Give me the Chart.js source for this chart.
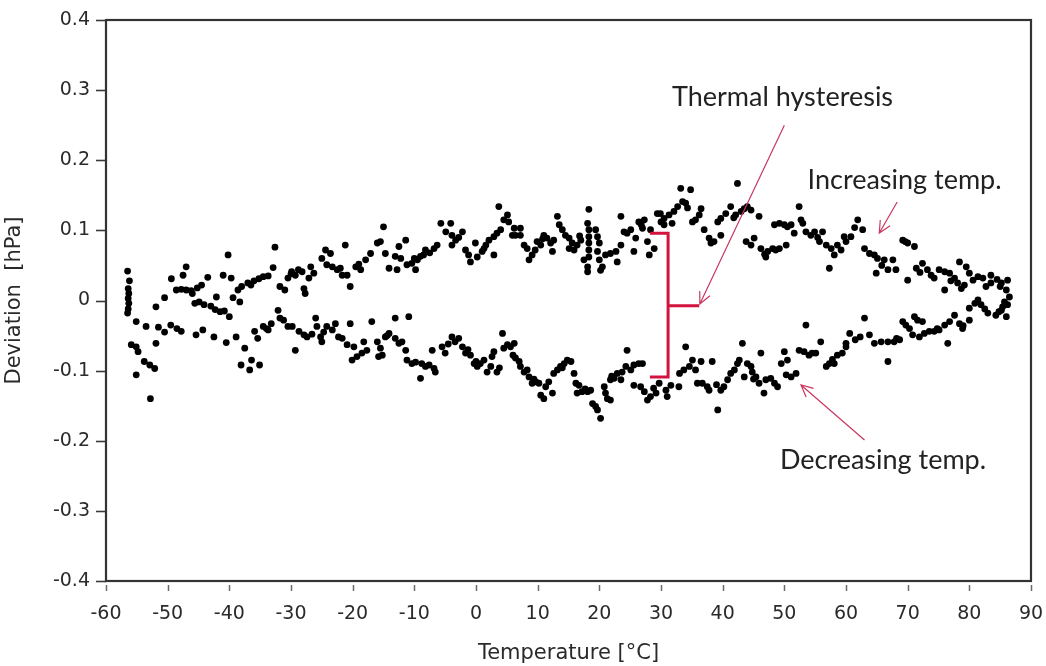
<!DOCTYPE html>
<html>
<head>
<meta charset="utf-8">
<script src="https://cdn.jsdelivr.net/npm/chart.js@4/dist/chart.umd.min.js"></script>
<style>
  html, body { margin: 0; padding: 0; background: #ffffff; }
  #wrap { width: 1046px; height: 666px; }
</style>
</head>
<body>
<div id="wrap"><canvas id="chart" width="1046" height="666"></canvas></div>
<script>
// Pressure sensor deviation over a temperature cycle (heating run and cooling run)
const xTicks = [-60, -50, -40, -30, -20, -10, 0, 10, 20, 30, 40, 50, 60, 70, 80, 90];
const yTicks = [-0.4, -0.3, -0.2, -0.1, 0, 0.1, 0.2, 0.3, 0.4];

// Increasing temperature run: temperature [°C]
const incTemp = [
  -56.5, -56.2, -56.4, -56.3, -56.4, -56.3, -56.4, -56.5, -55.1, -53.5, -51.9, -50.5, -49.4, -47.5, -47.0, -48.6,
  -47.8, -47.0, -46.2, -44.5, -43.5, -45.6, -44.9, -44.1, -43.0, -42.3, -41.5, -40.8, -40.0, -42.1, -40.2, -41.0,
  -39.7, -38.6, -39.4, -38.3, -37.0, -36.0, -35.2, -34.5, -33.7, -32.6, -32.9, -31.8, -31.0, -30.5, -29.9, -29.3,
  -28.2, -26.8, -26.3, -27.1, -27.9, -27.7, -25.0, -24.4, -23.6, -24.2, -23.3, -22.5, -22.0, -20.9, -20.4, -21.7,
  -21.2, -19.5, -18.7, -17.9, -17.1, -16.0, -15.5, -15.0, -14.7, -14.1, -12.8, -12.5, -11.4, -13.1, -12.2, -11.2,
  -10.4, -9.5, -9.0, -8.2, -9.8, -8.5, -6.8, -6.3, -5.7, -4.1, -4.9, -3.9, -3.3, -2.2, -3.9, -1.7,
  -1.2, -0.9, -0.1, 0.2, 1.0, 1.6, 2.1, 2.9, 3.4, 4.0, 2.9, 3.7, 4.5, 5.1, 5.3, 5.9,
  6.4, 7.2, 6.2, 7.2, 7.8, 8.3, 8.6, 9.1, 9.6, 9.9, 10.5, 11.0, 11.5, 12.1, 12.6, 12.4,
  13.2, 13.5, 14.0, 14.5, 15.1, 15.6, 15.1, 15.9, 16.4, 17.0, 18.3, 18.1, 18.3, 18.3, 18.3, 18.3,
  18.3, 17.5, 18.1, 18.1, 19.4, 19.7, 20.0, 19.7, 20.0, 20.5, 20.2, 21.0, 21.8, 22.7, 22.9, 23.5,
  23.5, 24.5, 25.1, 25.9, 26.4, 27.0, 27.3, 27.8, 28.3, 28.9, 29.4, 25.6, 28.1, 29.9, 30.5, 31.3,
  32.1, 32.7, 31.8, 30.5, 33.2, 34.8, 33.5, 34.0, 35.1, 35.6, 36.2, 36.5, 37.0, 37.8, 38.1, 38.6,
  39.2, 39.7, 39.7, 40.5, 41.3, 42.1, 43.0, 43.5, 44.0, 44.6, 42.4, 43.8, 45.1, 44.6, 45.9, 46.2,
  47.0, 47.3, 48.1, 48.6, 49.2, 50.3, 48.4, 49.2, 50.0, 50.5, 51.1, 51.6, 52.4, 52.7, 53.5, 54.3,
  54.9, 56.2, 55.7, 56.8, 57.6, 58.1, 57.3, 58.6, 59.7, 59.2, 61.9, 62.7, 60.8, 60.0, 63.0, 63.8,
  64.6, 65.1, 64.9, 66.2, 66.8, 67.6, 68.1, 69.2, 70.0, 71.1, 70.0, 71.4, 72.4, 73.2, 73.8, 74.3,
  75.1, 76.0, 76.8, 76.0, 77.6, 78.1, 78.7, 78.4, 79.5, 80.0, 79.2, 80.6, 81.4, 82.2, 82.7, 83.5,
  83.5, 85.2, 86.2, 86.0, 86.5, 85.7, 86.2,
  -46.0, -45.2, -38.0, -36.5, -30.0, -28.8, -19.0, -10.0, -7.5, -2.8, 1.3, 10.8, 16.8, 24.0, 26.8, 30.0,
  34.3, 41.8, 46.8, 53.0, 55.4, 61.4, 65.8, 69.6, 72.0, 77.0, 84.5, 85.0
];
// Increasing temperature run: deviation [hPa]
const incDev = [
  0.042, 0.028, 0.017, 0.010, 0.003, -0.004, -0.012, -0.018, -0.030, -0.037, -0.009, 0.004, 0.031, 0.036, 0.048, 0.015,
  0.016, 0.015, 0.014, 0.022, 0.033, -0.004, -0.002, -0.006, -0.008, -0.013, -0.016, -0.015, -0.023, 0.005, 0.065, 0.036,
  0.032, 0.015, 0.004, -0.002, 0.025, 0.028, 0.031, 0.034, 0.035, 0.076, 0.047, 0.020, 0.015, 0.032, 0.041, 0.036,
  0.041, 0.048, 0.039, 0.032, 0.017, 0.010, 0.060, 0.072, 0.067, 0.051, 0.048, 0.044, 0.046, 0.036, 0.020, 0.036,
  0.079, 0.048, 0.044, 0.058, 0.067, 0.082, 0.084, 0.105, 0.067, 0.046, 0.044, 0.077, 0.086, 0.063, 0.060, 0.051,
  0.053, 0.058, 0.063, 0.072, 0.044, 0.065, 0.074, 0.079, 0.110, 0.110, 0.098, 0.093, 0.086, 0.098, 0.079, 0.072,
  0.065, 0.055, 0.082, 0.062, 0.070, 0.079, 0.086, 0.091, 0.096, 0.101, 0.065, 0.134, 0.115, 0.122, 0.112, 0.093,
  0.093, 0.093, 0.103, 0.103, 0.079, 0.074, 0.058, 0.065, 0.072, 0.084, 0.079, 0.093, 0.089, 0.082, 0.086, 0.070,
  0.120, 0.108, 0.101, 0.093, 0.089, 0.082, 0.074, 0.072, 0.079, 0.086, 0.130, 0.110, 0.101, 0.091, 0.082, 0.072,
  0.062, 0.058, 0.048, 0.041, 0.101, 0.091, 0.082, 0.070, 0.058, 0.048, 0.043, 0.065, 0.067, 0.070, 0.055, 0.079,
  0.120, 0.096, 0.101, 0.089, 0.112, 0.103, 0.115, 0.084, 0.101, 0.074, 0.124, 0.070, 0.065, 0.124, 0.117, 0.122,
  0.127, 0.134, 0.110, 0.108, 0.160, 0.158, 0.141, 0.139, 0.112, 0.115, 0.122, 0.131, 0.101, 0.089, 0.082, 0.084,
  0.112, 0.117, 0.093, 0.124, 0.134, 0.122, 0.127, 0.131, 0.134, 0.129, 0.167, 0.084, 0.089, 0.079, 0.120, 0.074,
  0.062, 0.070, 0.074, 0.072, 0.074, 0.079, 0.108, 0.110, 0.108, 0.105, 0.108, 0.096, 0.134, 0.115, 0.098, 0.093,
  0.098, 0.098, 0.084, 0.079, 0.074, 0.065, 0.046, 0.079, 0.091, 0.072, 0.115, 0.101, 0.091, 0.084, 0.074, 0.067,
  0.065, 0.060, 0.039, 0.058, 0.044, 0.058, 0.044, 0.086, 0.082, 0.077, 0.029, 0.046, 0.053, 0.044, 0.036, 0.032,
  0.044, 0.041, 0.039, 0.015, 0.032, 0.025, 0.017, 0.055, 0.048, 0.039, 0.022, 0.029, 0.034, 0.032, 0.020, 0.025,
  0.036, 0.025, 0.029, 0.015, 0.005, -0.002, -0.006,
  0.010, 0.018, 0.020, 0.022, 0.038, 0.044, 0.052, 0.060, 0.068, 0.090, 0.074, 0.088, 0.092, 0.098, 0.108, 0.112,
  0.132, 0.118, 0.066, 0.110, 0.090, 0.104, 0.050, 0.084, 0.040, 0.028, 0.030, 0.020
];

// Decreasing temperature run: temperature [°C]
const decTemp = [
  85.2, 84.3, 86.0, 85.4, 83.0, 81.9, 81.4, 80.9, 80.0, 80.0, 78.9, 78.4, 77.6, 76.8, 76.0, 76.5,
  75.1, 74.3, 73.5, 72.7, 71.9, 70.8, 72.4, 71.6, 71.1, 70.3, 69.7, 69.2, 68.7, 67.8, 66.8, 66.8,
  65.7, 64.6, 63.8, 63.0, 61.5, 60.6, 60.0, 60.0, 59.4, 58.6, 58.1, 57.3, 56.8, 55.9, 55.1, 54.5,
  54.0, 53.5, 53.2, 52.4, 51.9, 51.1, 50.3, 50.5, 50.0, 48.9, 48.4, 47.8, 47.0, 46.7, 46.2, 45.9,
  45.4, 44.8, 44.6, 44.0, 43.5, 43.2, 42.7, 42.4, 41.9, 41.3, 40.8, 40.2, 39.7, 39.2, 38.3, 37.8,
  37.5, 36.7, 36.5, 35.9, 35.6, 35.1, 34.6, 33.7, 34.0, 32.9, 31.6, 31.0, 30.8, 29.7, 29.2, 28.3,
  27.8, 27.3, 26.7, 25.6, 27.0, 26.4, 25.6, 25.1, 24.5, 24.3, 23.7, 23.5, 22.9, 22.4, 21.8, 21.8,
  21.3, 21.0, 20.8, 20.2, 19.7, 19.4, 18.9, 18.6, 18.1, 17.2, 16.4, 16.7, 16.2, 15.9, 15.4, 14.8,
  14.3, 13.7, 13.2, 12.6, 12.4, 11.8, 11.3, 11.0, 10.5, 10.2, 9.7, 9.1, 8.6, 8.3, 7.8, 7.2,
  7.0, 6.4, 6.2, 5.6, 5.1, 4.5, 4.3, 2.9, 3.4, 2.6, 2.4, 1.8, 1.3, 0.7, 0.0, 0.2,
  -0.3, -0.9, -1.7, -2.2, -2.8, -3.4, -3.9, -5.0, -5.5, -7.1, -6.6, -6.8, -7.6, -8.2, -9.0, -9.8,
  -10.4, -11.2, -10.9, -13.1, -11.4, -12.0, -12.5, -13.1, -14.1, -14.7, -15.8, -15.2, -15.5, -16.0, -16.9, -18.2,
  -17.7, -18.5, -19.3, -20.1, -20.4, -20.9, -21.7, -22.3, -22.8, -23.3, -24.2, -25.0, -25.2, -25.8, -26.0, -27.4,
  -27.9, -28.7, -29.3, -29.8, -30.5, -31.8, -32.1, -33.2, -33.7, -34.5, -35.4, -35.9, -35.1, -36.7, -38.1, -36.4,
  -37.5, -38.9, -44.3, -45.4, -47.8, -48.5, -49.5, -50.5, -51.5, -52.9, -52.1, -53.8, -55.1, -52.8, -51.9, -54.8,
  -55.1, -55.9,
  84.8, 82.5, 79.0, 74.8, 68.2, 62.3, 57.8, 49.5, 45.0, 39.0, 33.0, 28.8, 22.0, 17.7, 14.0, 9.4,
  6.0, 3.8, -1.3, -4.5, -8.8, -14.4, -19.8, -24.7, -26.6, -31.2, -34.0, -40.5, -42.5
];
// Decreasing temperature run: deviation [hPa]
const decDev = [
  -0.014, -0.021, -0.023, -0.009, -0.018, -0.006, 0.001, -0.004, -0.011, -0.028, -0.040, -0.033, -0.021, -0.030, -0.035, -0.061,
  -0.042, -0.044, -0.044, -0.047, -0.052, -0.049, -0.030, -0.028, -0.023, -0.040, -0.035, -0.030, -0.056, -0.059, -0.059, -0.087,
  -0.059, -0.061, -0.049, -0.025, -0.056, -0.047, -0.066, -0.061, -0.075, -0.078, -0.090, -0.090, -0.094, -0.059, -0.075, -0.075,
  -0.078, -0.035, -0.073, -0.071, -0.104, -0.109, -0.106, -0.085, -0.073, -0.123, -0.118, -0.111, -0.113, -0.132, -0.075, -0.118,
  -0.109, -0.102, -0.094, -0.090, -0.109, -0.061, -0.085, -0.090, -0.099, -0.104, -0.113, -0.123, -0.128, -0.156, -0.087, -0.128,
  -0.123, -0.118, -0.087, -0.118, -0.099, -0.085, -0.094, -0.099, -0.066, -0.123, -0.121, -0.137, -0.128, -0.118, -0.132, -0.137,
  -0.142, -0.130, -0.123, -0.121, -0.090, -0.090, -0.092, -0.099, -0.071, -0.094, -0.102, -0.113, -0.104, -0.111, -0.113, -0.142,
  -0.140, -0.132, -0.123, -0.168, -0.156, -0.151, -0.147, -0.128, -0.130, -0.130, -0.132, -0.121, -0.118, -0.104, -0.087, -0.085,
  -0.090, -0.094, -0.099, -0.104, -0.132, -0.116, -0.123, -0.140, -0.135, -0.118, -0.116, -0.118, -0.109, -0.099, -0.102, -0.094,
  -0.087, -0.082, -0.061, -0.066, -0.063, -0.068, -0.047, -0.073, -0.102, -0.080, -0.094, -0.102, -0.085, -0.090, -0.087, -0.094,
  -0.090, -0.078, -0.075, -0.066, -0.054, -0.059, -0.052, -0.075, -0.066, -0.071, -0.102, -0.097, -0.092, -0.094, -0.111, -0.088,
  -0.090, -0.085, -0.023, -0.025, -0.071, -0.059, -0.061, -0.054, -0.047, -0.052, -0.080, -0.078, -0.068, -0.059, -0.030, -0.059,
  -0.071, -0.075, -0.080, -0.085, -0.033, -0.063, -0.054, -0.052, -0.033, -0.042, -0.037, -0.059, -0.052, -0.037, -0.025, -0.052,
  -0.049, -0.044, -0.071, -0.037, -0.037, -0.025, -0.014, -0.033, -0.042, -0.037, -0.054, -0.044, -0.092, -0.099, -0.092, -0.085,
  -0.068, -0.052, -0.042, -0.049, -0.044, -0.040, -0.035, -0.045, -0.038, -0.092, -0.097, -0.087, -0.106, -0.140, -0.061, -0.073,
  -0.066, -0.063,
  -0.016, -0.012, -0.036, -0.040, -0.054, -0.052, -0.084, -0.090, -0.112, -0.120, -0.104, -0.125, -0.108, -0.126, -0.096, -0.112,
  -0.078, -0.096, -0.070, -0.062, -0.090, -0.050, -0.066, -0.045, -0.048, -0.028, -0.040, -0.060, -0.052
];

// Callouts, placed in data units (temperature, deviation)
const hysteresisBracket = { x: 31.15, hookX: 28.2, top: 0.096, bottom: -0.109, mid: -0.0074, tipX: 36.2 };
const callouts = [
  { text: 'Thermal hysteresis', tx: 49.7, ty: 0.290, from: [50.0, 0.250], to: [36.3, -0.005] },
  { text: 'Increasing temp.', tx: 69.5, ty: 0.172, from: [68.3, 0.1405], to: [65.4, 0.0963] },
  { text: 'Decreasing temp.', tx: 66.0, ty: -0.2275, from: [63.0, -0.199], to: [52.7, -0.1205] }
];

const toPoints = (xs, ys) => xs.map((x, i) => ({ x: x, y: ys[i] }));

const TICK_FONT = { family: 'DejaVu Sans', size: 19 };
const TITLE_FONT = { family: 'DejaVu Sans', size: 21 };
const INK = '#2a2a2a';
const CALLOUT_RED = '#d3123e';

const framePlugin = {
  id: 'frameAndCallouts',
  beforeDraw(chart) {
    const c = chart.ctx;
    c.save();
    c.fillStyle = '#ffffff';
    c.fillRect(0, 0, chart.width, chart.height);
    c.restore();
  },
  afterDraw(chart) {
    const c = chart.ctx;
    const a = chart.chartArea;
    const xs = chart.scales.x, ys = chart.scales.y;
    c.save();
    // y tick marks
    c.strokeStyle = '#3a3a3a';
    c.lineWidth = 1.6;
    yTicks.forEach(v => {
      const py = Math.round(ys.getPixelForValue(v)) + 0.5;
      c.beginPath(); c.moveTo(a.left - 10, py); c.lineTo(a.left, py); c.stroke();
    });
    // x tick marks, set slightly below the frame
    c.strokeStyle = '#6a6a6a';
    c.lineWidth = 1.5;
    xTicks.forEach(v => {
      const px = Math.round(xs.getPixelForValue(v)) + 0.5;
      c.beginPath(); c.moveTo(px, a.bottom + 4); c.lineTo(px, a.bottom + 10); c.stroke();
    });
    // plot frame
    c.strokeStyle = '#333333';
    c.lineWidth = 2.2;
    c.strokeRect(a.left, a.top, a.right - a.left, a.bottom - a.top);

    // hysteresis bracket
    const b = hysteresisBracket;
    const bx = xs.getPixelForValue(b.x), hx = xs.getPixelForValue(b.hookX), tx = xs.getPixelForValue(b.tipX);
    const bt = ys.getPixelForValue(b.top), bb = ys.getPixelForValue(b.bottom), bm = ys.getPixelForValue(b.mid);
    c.strokeStyle = CALLOUT_RED;
    c.lineWidth = 3;
    c.lineJoin = 'miter';
    c.beginPath();
    c.moveTo(hx, bt); c.lineTo(bx, bt); c.lineTo(bx, bb); c.lineTo(hx, bb);
    c.moveTo(bx, bm); c.lineTo(tx, bm);
    c.stroke();

    // callout arrows and their labels
    callouts.forEach(o => {
      const x1 = xs.getPixelForValue(o.from[0]), y1 = ys.getPixelForValue(o.from[1]);
      const x2 = xs.getPixelForValue(o.to[0]), y2 = ys.getPixelForValue(o.to[1]);
      const ang = Math.atan2(y2 - y1, x2 - x1);
      const head = 13, spread = 0.45;
      c.strokeStyle = '#c8385f';
      c.lineWidth = 1.2;
      c.beginPath();
      c.moveTo(x1, y1); c.lineTo(x2, y2);
      c.moveTo(x2 - head * Math.cos(ang - spread), y2 - head * Math.sin(ang - spread));
      c.lineTo(x2, y2);
      c.lineTo(x2 - head * Math.cos(ang + spread), y2 - head * Math.sin(ang + spread));
      c.stroke();
      c.fillStyle = '#222222';
      c.font = '27px Lato';
      c.textAlign = 'center';
      c.textBaseline = 'middle';
      c.fillText(o.text, xs.getPixelForValue(o.tx), ys.getPixelForValue(o.ty));
    });
    c.restore();
  }
};

new Chart(document.getElementById('chart'), {
  type: 'scatter',
  data: {
    datasets: [
      { label: 'Increasing temp.', data: toPoints(incTemp, incDev), backgroundColor: '#000000', borderColor: '#000000', pointRadius: 3.4, borderWidth: 0 },
      { label: 'Decreasing temp.', data: toPoints(decTemp, decDev), backgroundColor: '#000000', borderColor: '#000000', pointRadius: 3.4, borderWidth: 0 }
    ]
  },
  options: {
    responsive: false,
    animation: false,
    layout: { padding: { top: 20, right: 15, left: 0, bottom: 0 } },
    plugins: { legend: { display: false }, tooltip: { enabled: false } },
    scales: {
      x: {
        type: 'linear', min: -60, max: 90,
        afterBuildTicks: s => { s.ticks = xTicks.map(v => ({ value: v })); },
        afterFit: s => { s.height = 85; s.paddingLeft = 0; s.paddingRight = 0; },
        border: { display: false },
        grid: { drawOnChartArea: false, drawTicks: true, tickLength: 10, color: 'rgba(0,0,0,0)' },
        ticks: { font: TICK_FONT, color: INK, padding: 12, maxRotation: 0, callback: v => String(v) },
        title: { display: true, text: 'Temperature [°C]', font: TITLE_FONT, color: INK, padding: { top: 0, bottom: 0 } }
      },
      y: {
        type: 'linear', min: -0.4, max: 0.4,
        afterBuildTicks: s => { s.ticks = yTicks.map(v => ({ value: v })); },
        afterFit: s => { s.width = 106; s.paddingTop = 0; s.paddingBottom = 0; },
        border: { display: false },
        grid: { drawOnChartArea: false, drawTicks: true, tickLength: 10, color: 'rgba(0,0,0,0)' },
        ticks: { font: TICK_FONT, color: INK, padding: 6, callback: v => (Math.abs(v) < 1e-9 ? '0' : v.toFixed(1)) },
        title: { display: true, text: 'Deviation  [hPa]', font: TITLE_FONT, color: INK, padding: { top: 2, bottom: 4 } }
      }
    }
  },
  plugins: [framePlugin]
});
</script>
</body>
</html>
